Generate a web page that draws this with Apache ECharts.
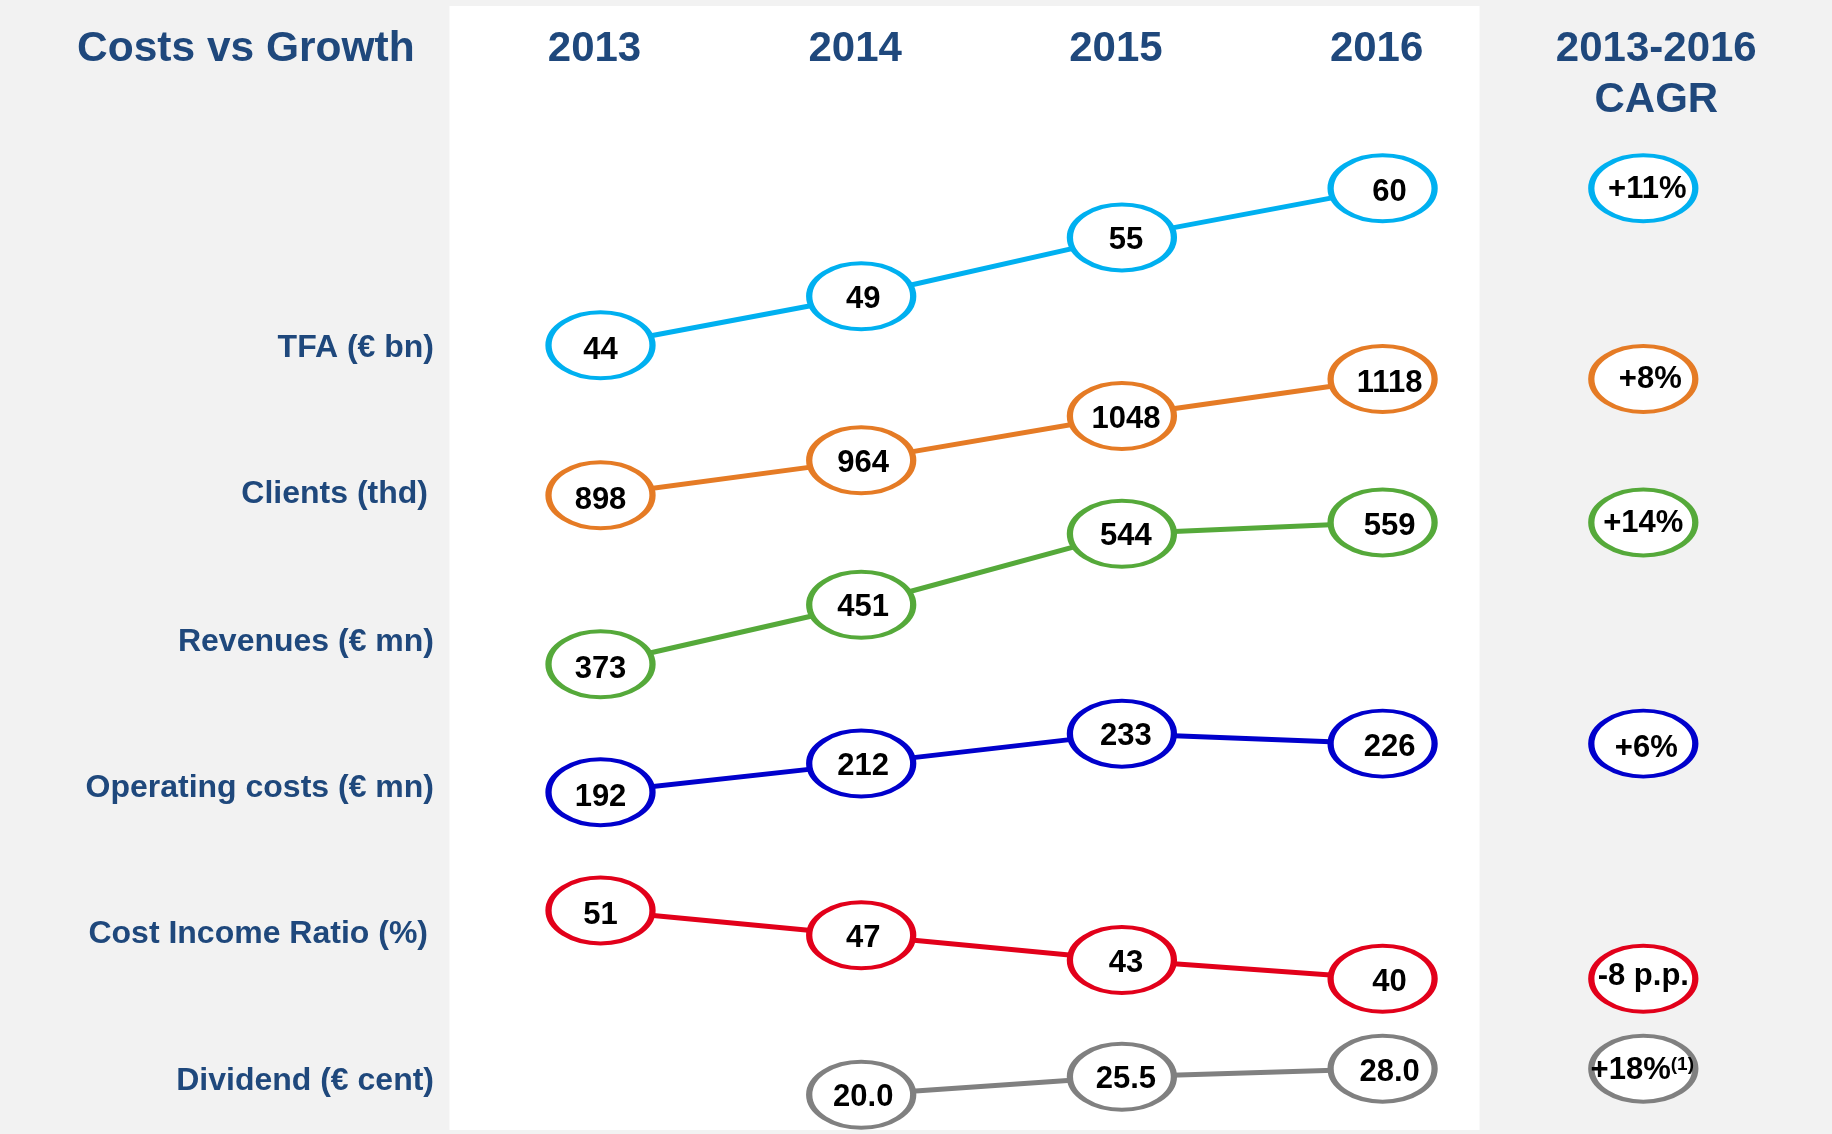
<!DOCTYPE html>
<html>
<head>
<meta charset="utf-8">
<script src="https://cdn.jsdelivr.net/npm/echarts@6/dist/echarts.min.js"></script>
<style>
  html, body { margin: 0; padding: 0; background: #f2f2f2; }
  #chart { width: 1832px; height: 1134px; }
</style>
</head>
<body>
<div id="chart"></div>
<script>
// ---- data ----
const years = ['2013', '2014', '2015', '2016'];
const cagrHeader = '2013-2016\nCAGR';
const rowNames = ['TFA (€ bn)', 'Clients (thd)', 'Revenues (€ mn)', 'Operating costs (€ mn)', 'Cost Income Ratio (%)', 'Dividend (€ cent)'];
const tfa = [44, 49, 55, 60];
const clients = [898, 964, 1048, 1118];
const revenues = [373, 451, 544, 559];
const operatingCosts = [192, 212, 233, 226];
const costIncomeRatio = [51, 47, 43, 40];
const dividend = [null, 20.0, 25.5, 28.0];
const cagrLabels = ['+11%', '+8%', '+14%', '+6%', '-8 p.p.', '+18%'];
const cagrNotes = ['', '', '', '', '', '(1)'];

// ---- styling ----
const FONT = '"Liberation Sans", Arial, Helvetica, sans-serif';
const NAVY = '#1f487c';
const rows = [
  { data: tfa,             color: '#00b0f0', range: [-36.4, 79.2], labelY: 348, labelRight: 434, cagrOffset: [4, 1] },
  { data: clients,         color: '#e57b25', range: [-312, 1836],  labelY: 494, labelRight: 428, cagrOffset: [7, 0] },
  { data: revenues,        color: '#55a93a', range: [-243, 1244],  labelY: 642, labelRight: 434, cagrOffset: [0, 1] },
  { data: operatingCosts,  color: '#0000cc', range: [-47.5, 747],  labelY: 788, labelRight: 434, cagrOffset: [3, 5] },
  { data: costIncomeRatio, color: '#e2001a', range: [15, 197.6],   labelY: 934, labelRight: 428, cagrOffset: [0, -2] },
  { data: dividend,        color: '#808080', range: [8, 355],      labelY: 1081, labelRight: 434, cagrOffset: [-1, 2], decimals: 1 }
];
// value label nudges per year column
const colOffsets = [[0, 5], [2, 3], [4, 3], [7, 4]];
const STROKE = 5;
const BUBBLE = [104, 66];

const yAxes = [];
const series = [];
rows.forEach((r, k) => {
  yAxes.push({ type: 'value', min: r.range[0], max: r.range[1], show: false, splitLine: { show: false } });
  const bubbleStyle = { color: '#ffffff', borderColor: r.color, borderWidth: STROKE, opacity: 1 };
  series.push({
    type: 'line',
    yAxisIndex: k,
    data: r.data.map((v, i) => v == null ? '-' : { value: v, label: { offset: colOffsets[i] } }),
    symbol: 'circle',
    symbolSize: BUBBLE,
    showAllSymbol: true,
    lineStyle: { color: r.color, width: STROKE },
    itemStyle: bubbleStyle,
    label: {
      show: true, position: 'inside', color: '#000', fontFamily: FONT, fontWeight: 'bold', fontSize: 31,
      formatter: p => r.decimals ? Number(p.value).toFixed(r.decimals) : String(p.value)
    },
    emphasis: { disabled: true },
    z: 3
  });
  // CAGR bubble in the last column, level with the 2016 point
  series.push({
    type: 'scatter',
    yAxisIndex: k,
    data: [{ value: [4, r.data[3]], label: { offset: r.cagrOffset } }],
    symbol: 'circle',
    symbolSize: BUBBLE,
    itemStyle: bubbleStyle,
    label: {
      show: true, position: 'inside', opacity: 1,
      formatter: () => cagrNotes[k] ? `{m|${cagrLabels[k]}}{s|${cagrNotes[k]}}` : `{m|${cagrLabels[k]}}`,
      rich: {
        m: { color: '#000', fontFamily: FONT, fontWeight: 'bold', fontSize: 31, lineHeight: 31 },
        s: { color: '#000', fontFamily: FONT, fontWeight: 'bold', fontSize: 19, lineHeight: 19, verticalAlign: 'top' }
      }
    },
    emphasis: { disabled: true },
    z: 3
  });
});

const graphics = [
  { type: 'rect', z: -10, shape: { x: 449.5, y: 6, width: 1030, height: 1124 }, style: { fill: '#ffffff' } }
];
rowNames.forEach((name, k) => {
  graphics.push({
    type: 'text',
    style: {
      text: name, x: rows[k].labelRight, y: rows[k].labelY,
      align: 'right', verticalAlign: 'middle',
      font: `bold 32px ${FONT}`, fill: NAVY
    }
  });
});

const chart = echarts.init(document.getElementById('chart'), null, { renderer: 'canvas' });
chart.setOption({
  animation: false,
  backgroundColor: '#f2f2f2',
  title: {
    text: 'Costs vs Growth', left: 77, top: 28.5, padding: 0,
    textStyle: { fontFamily: FONT, fontWeight: 'bold', fontSize: 42.5, lineHeight: 42, color: NAVY }
  },
  grid: { left: 600.5, right: 188.7, top: 0, bottom: 0, containLabel: false },
  xAxis: {
    type: 'category',
    data: [...years, cagrHeader],
    position: 'top',
    boundaryGap: false,
    axisLine: { show: false },
    axisTick: { show: false },
    splitLine: { show: false },
    axisLabel: {
      inside: true, margin: 23.5, interval: 0, verticalAlign: 'top',
      color: NAVY, fontFamily: FONT, fontWeight: 'bold', fontSize: 42, lineHeight: 51,
      formatter: v => v.includes('\n') ? v.split('\n').map(s => `{c|${s}}`).join('\n') : `{y|${v}}`,
      rich: {
        y: { color: NAVY, fontFamily: FONT, fontWeight: 'bold', fontSize: 42, lineHeight: 51, padding: [0, 12, 0, 0] },
        c: { color: NAVY, fontFamily: FONT, fontWeight: 'bold', fontSize: 42, lineHeight: 51, padding: [0, 0, 0, 26] }
      }
    }
  },
  yAxis: yAxes,
  graphic: graphics,
  series: series
});
</script>
</body>
</html>
